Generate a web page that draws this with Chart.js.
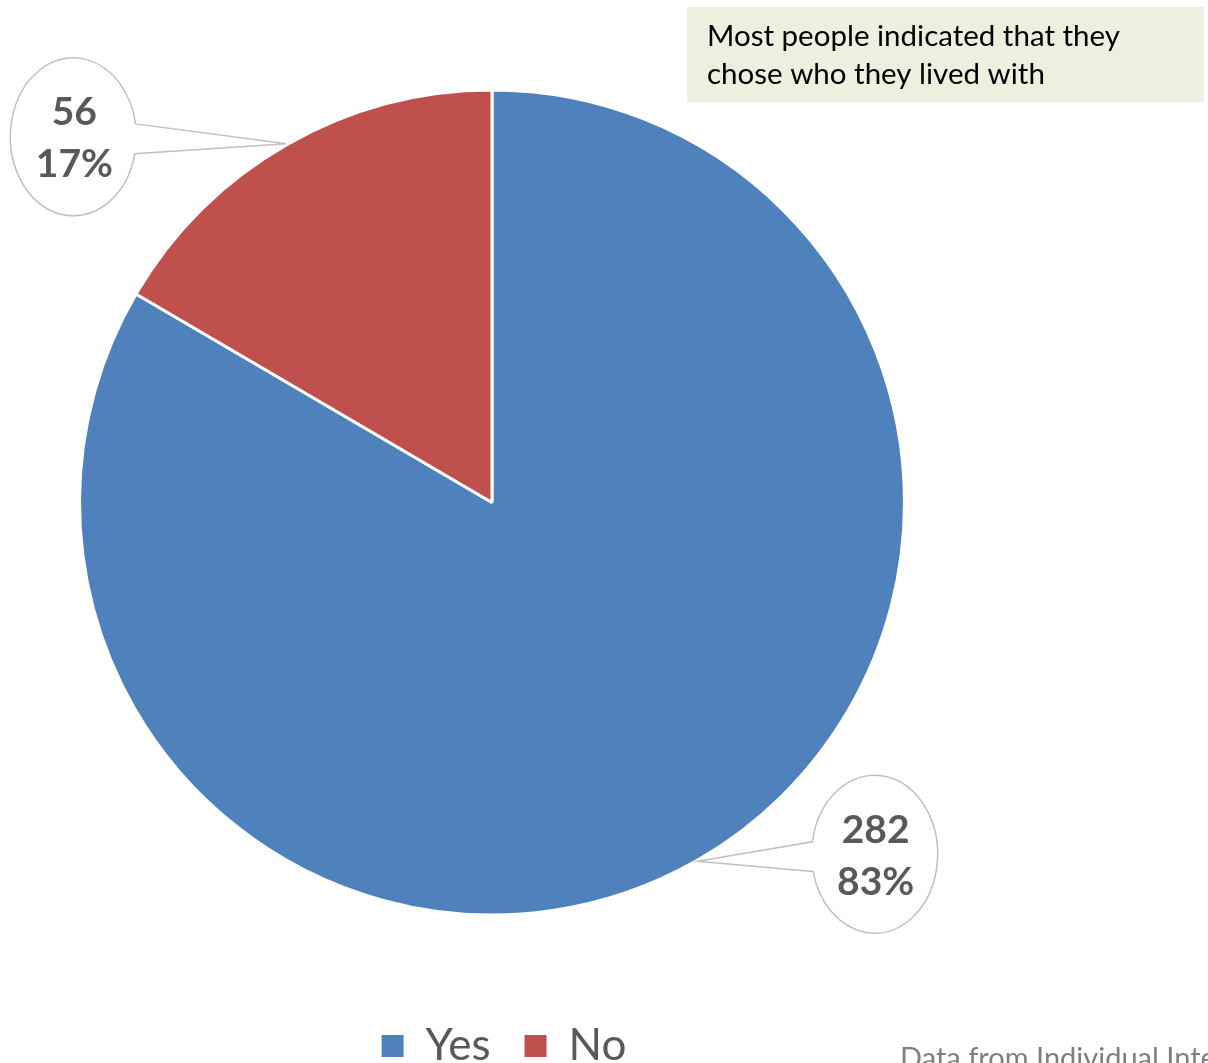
<!DOCTYPE html>
<html>
<head>
<meta charset="utf-8">
<script src="https://cdn.jsdelivr.net/npm/chart.js@4/dist/chart.umd.min.js"></script>
<style>
    html, body { margin: 0; padding: 0; background: #ffffff; overflow: hidden; }
    #wrap { position: relative; width: 1208px; height: 1078px; }
</style>
</head>
<body>
<div id="wrap"><canvas id="choicePie"></canvas></div>
<script>
// Did people choose who they lived with?
const categories = ['Yes', 'No'];
const counts = [282, 56];
const sliceColors = ['#4F81BD', '#C0504D'];

const noteLines = ['Most people indicated that they', 'chose who they lived with'];
const sourceNote = 'Data from Individual Interviews';

const FONT = 'Lato, "Open Sans", sans-serif';

// where each callout bubble sits relative to the point it marks on the rim
const calloutOffsets = [[177, -7], [-213, -7]];

function drawCallout(ctx, tipX, tipY, cx, cy, lines) {
    const rx = 63, ry = 79, half = 0.19;
    const phi = Math.atan2((tipY - cy) / ry, (tipX - cx) / rx);

    ctx.save();
    ctx.beginPath();
    ctx.moveTo(cx + rx * Math.cos(phi - half), cy + ry * Math.sin(phi - half));
    ctx.lineTo(tipX, tipY);
    ctx.lineTo(cx + rx * Math.cos(phi + half), cy + ry * Math.sin(phi + half));
    ctx.ellipse(cx, cy, rx, ry, 0, phi + half, phi - half + Math.PI * 2, false);
    ctx.closePath();
    ctx.fillStyle = '#ffffff';
    ctx.fill();
    ctx.lineWidth = 1.5;
    ctx.strokeStyle = '#BFBFBF';
    ctx.stroke();

    ctx.fillStyle = '#595959';
    ctx.font = 'bold 39px ' + FONT;
    ctx.textAlign = 'center';
    ctx.textBaseline = 'middle';
    ctx.fillText(lines[0], cx + 1, cy - 24);
    ctx.fillText(lines[1], cx + 1, cy + 28);
    ctx.restore();
}

const annotations = {
    id: 'annotations',
    afterLayout(chart) {
        // nudge the legend row a little to the right
        chart.legend.left += 12;
        chart.legend.right += 12;
    },
    afterDatasetsDraw(chart) {
        const ctx = chart.ctx;
        const meta = chart.getDatasetMeta(0);
        const total = counts.reduce((a, b) => a + b, 0);

        meta.data.forEach((arc, i) => {
            const p = arc.getProps(['x', 'y', 'startAngle', 'endAngle', 'outerRadius'], true);
            const mid = (p.startAngle + p.endAngle) / 2;
            const tipX = p.x + Math.cos(mid) * (p.outerRadius + 1);
            const tipY = p.y + Math.sin(mid) * (p.outerRadius + 1);
            const pct = Math.round(counts[i] / total * 100) + '%';
            drawCallout(ctx, tipX, tipY, tipX + calloutOffsets[i][0], tipY + calloutOffsets[i][1],
                [String(counts[i]), pct]);
        });

        // note box, top right
        ctx.save();
        ctx.fillStyle = '#EBF1DE';
        ctx.fillRect(687, 7, 517, 95);
        ctx.fillStyle = '#000000';
        ctx.font = '29.5px ' + FONT;
        ctx.textAlign = 'left';
        ctx.textBaseline = 'alphabetic';
        ctx.fillText(noteLines[0], 707, 46);
        ctx.fillText(noteLines[1], 707, 84);

        // source line, bottom right
        ctx.fillStyle = '#7F7F7F';
        ctx.font = '29px ' + FONT;
        ctx.fillText(sourceNote, 900, 1068);
        ctx.restore();
    }
};

new Chart(document.getElementById('choicePie'), {
    type: 'pie',
    data: {
        labels: categories,
        datasets: [{
            data: counts,
            backgroundColor: sliceColors,
            borderColor: '#ffffff',
            borderWidth: 3
        }]
    },
    options: {
        responsive: true,
        maintainAspectRatio: false,
        animation: false,
        layout: {
            padding: { left: 78, right: 302, top: 15, bottom: 0 }
        },
        plugins: {
            tooltip: { enabled: false },
            legend: {
                position: 'bottom',
                labels: {
                    color: '#595959',
                    font: { family: FONT, size: 44 },
                    boxWidth: 22,
                    boxHeight: 22,
                    padding: 34,
                    generateLabels(chart) {
                        const items = Chart.overrides.pie.plugins.legend.labels.generateLabels(chart);
                        items.forEach(item => { item.lineWidth = 0; });
                        return items;
                    }
                }
            }
        }
    },
    plugins: [annotations]
});
</script>
</body>
</html>
